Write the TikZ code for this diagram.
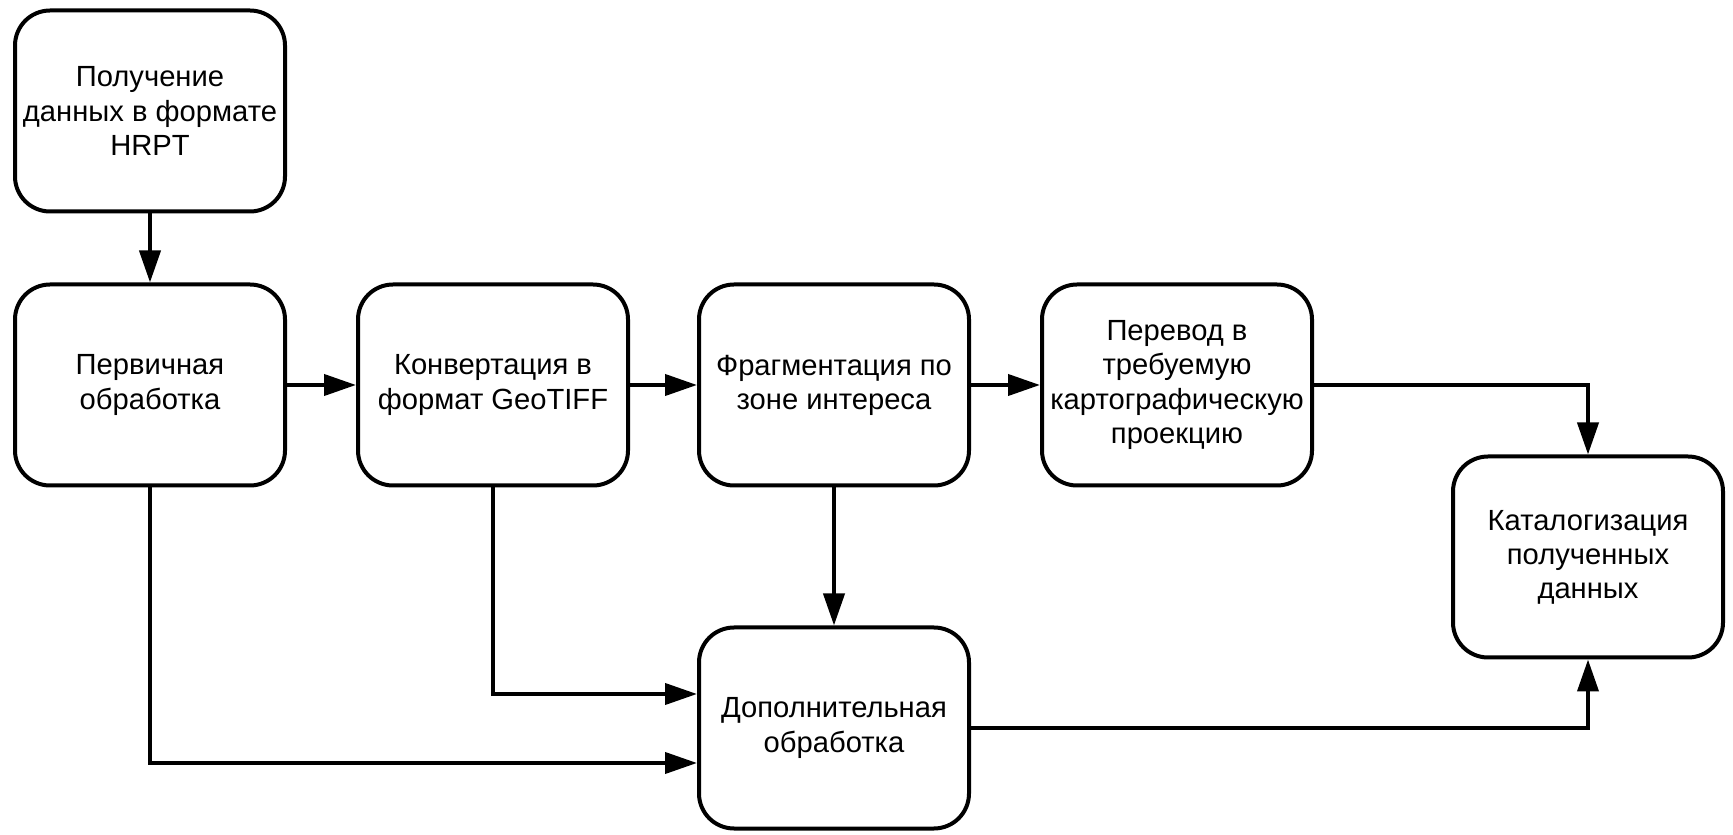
\documentclass[tikz,border=0pt]{standalone}
\usepackage{fontspec}
\setmainfont{Liberation Sans}
\usetikzlibrary{arrows.meta,calc,positioning}

\begin{document}
\begin{tikzpicture}[
    >={Triangle[length=0.64cm,width=0.42cm]},
    font=\fontsize{16.6}{19.4}\selectfont,
    proc/.style={draw=black, line width=0.08cm, rounded corners=0.7cm, fill=white, minimum width=5.4cm, minimum height=4.02cm, align=center, inner sep=0pt},
    flow/.style={->, line width=0.08cm, draw=black}
]
\useasboundingbox (0,0) rectangle (34.66,16.68);

% Processing steps
\node[proc] (recv) at (3.0,14.46) {Получение\\данных в формате\\HRPT};
\node[proc] (prim) at (3.0,8.98) {Первичная\\обработка};
\node[proc] (conv) at (9.86,8.98) {Конвертация в\\формат GeoTIFF};
\node[proc] (frag) at (16.68,8.98) {Фрагментация по\\зоне интереса};
\node[proc] (proj) at (23.54,8.98) {Перевод в\\требуемую\\картографическую\\проекцию};
\node[proc] (catl) at (31.76,5.54) {Каталогизация\\полученных\\данных};
\node[proc] (extra) at (16.68,2.12) {Дополнительная\\обработка};

% Entry points on the extra box
\coordinate (inconv) at ($(extra.west)+(0,0.68)$);
\coordinate (inprim) at ($(extra.west)+(0,-0.70)$);

% Main chain
\draw[flow] (recv.south) -- (prim.north);
\draw[flow] (prim.east) -- (conv.west);
\draw[flow] (conv.east) -- (frag.west);
\draw[flow] (frag.east) -- (proj.west);
\draw[flow] (proj.east) -| (catl.north);

% Side branches
\draw[flow] (frag.south) -- (extra.north);
\draw[flow] (conv.south) |- (inconv);
\draw[flow] (prim.south) |- (inprim);
\draw[flow] (extra.east) -| (catl.south);

\end{tikzpicture}
\end{document}
